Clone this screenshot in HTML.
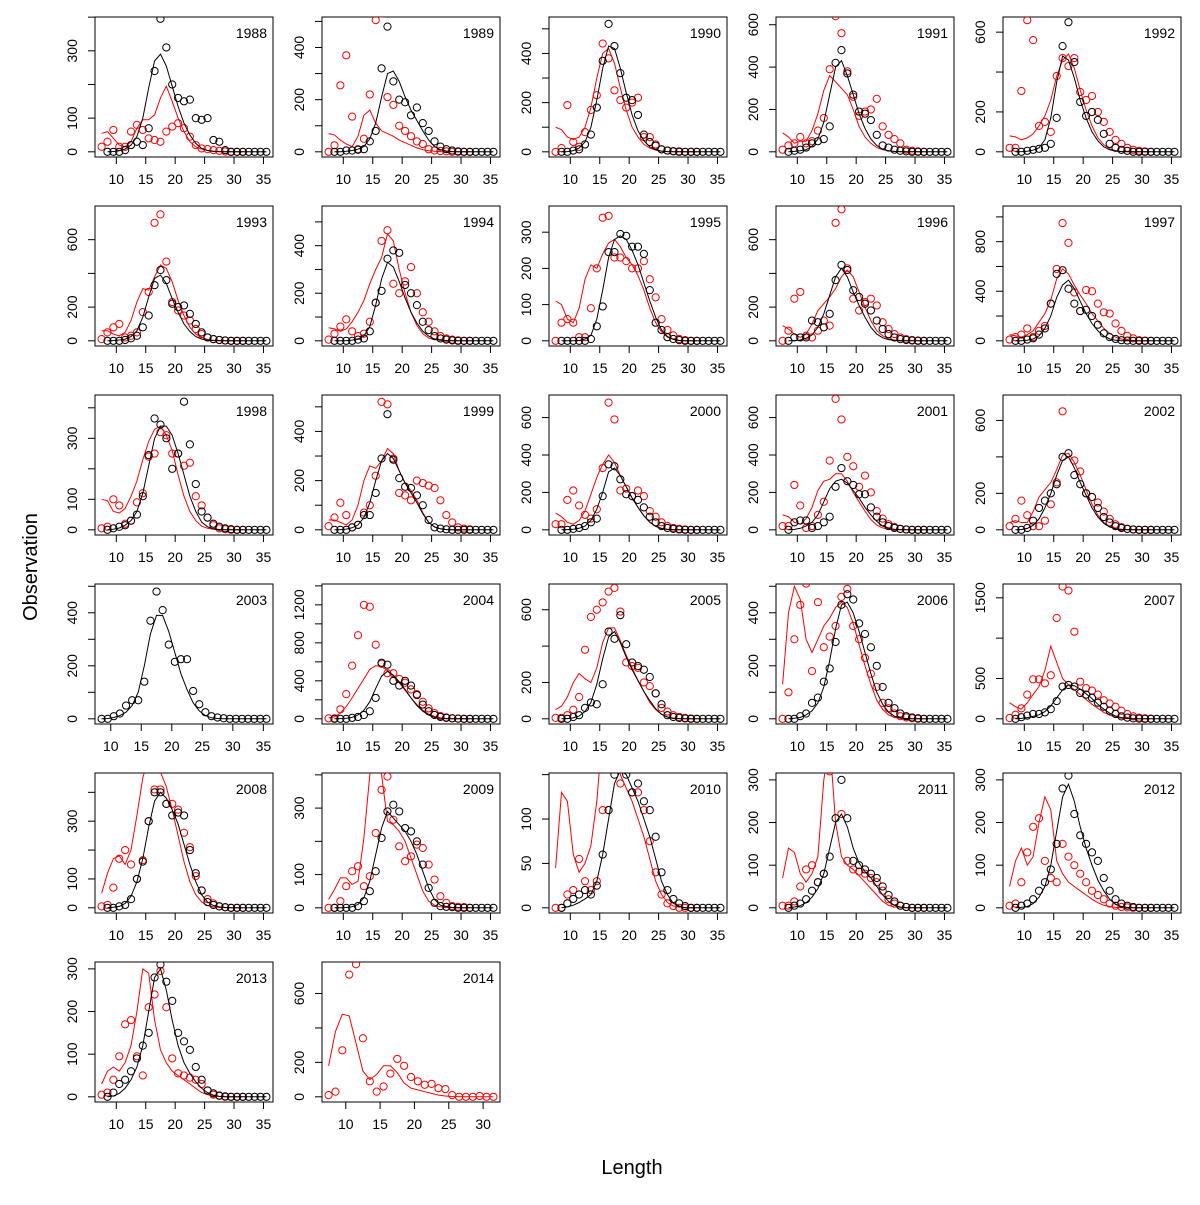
<!DOCTYPE html>
<html><head><meta charset="utf-8"><style>
body{margin:0;background:#fff}
svg text{font-family:"Liberation Sans","DejaVu Sans",sans-serif}
</style></head><body>
<svg id="chart" width="1200" height="1200" viewBox="0 0 1200 1200" xmlns="http://www.w3.org/2000/svg">
<text x="37" y="567" font-size="20" text-anchor="middle" transform="rotate(-90 37 567)">Observation</text>
<text x="632" y="1174" font-size="20" text-anchor="middle">Length</text>
</svg>
<script>
const years=[1988,1989,1990,1991,1992,1993,1994,1995,1996,1997,1998,1999,2000,2001,2002,2003,2004,2005,2006,2007,2008,2009,2010,2011,2012,2013,2014];
const blackLengths=[8.5,9.5,10.5,11.5,12.5,13.5,14.5,15.5,16.5,17.5,18.5,19.5,20.5,21.5,22.5,23.5,24.5,25.5,26.5,27.5,28.5,29.5,30.5,31.5,32.5,33.5,34.5,35.5];
const redLengths=[7.5,8.5,9.5,10.5,11.5,12.5,13.5,14.5,15.5,16.5,17.5,18.5,19.5,20.5,21.5,22.5,23.5,24.5,25.5,26.5,27.5,28.5,29.5,30.5,31.5];
const yMax=[385,497,527,612,650,769,545,358,769,1046,425,527,693,693,711,489,1365,713,489,1607,449,390,146,304,304,304,753];
const tickStep=[100,100,100,200,200,200,100,100,200,200,100,100,200,200,200,100,200,200,100,500,100,100,50,100,100,100,200];
const tickLabels=[[0,100,300],[0,200,400],[0,200,400],[0,200,400,600],[0,200,600],[0,200,600],[0,200,400],[0,100,200,300],[0,200,600],[0,400,800],[0,100,300],[0,200,400],[0,200,400,600],[0,200,400,600],[0,200,600],[0,200,400],[0,400,800,1200],[0,200,600],[0,200,400],[0,500,1500],[0,100,300],[0,100,300],[0,50,100],[0,100,200,300],[0,100,200,300],[0,100,200,300],[0,200,600]];
const blackObs=[
[0,0,0,5,20,30,20,70,240,395,310,200,160,150,155,100,95,100,35,30,5,0,0,0,0,0,0,0],
[0,0,5,5,8,10,40,80,320,480,270,200,190,140,170,110,80,40,20,10,5,2,0,0,0,0,0,0],
[0,0,5,10,30,70,180,370,520,430,320,220,210,150,70,40,25,10,5,2,0,0,0,0,0,0,0,0],
[0,5,10,20,40,50,60,120,420,480,370,270,190,180,150,80,30,20,10,5,2,0,0,0,0,0,0,0],
[0,0,5,10,15,20,40,170,530,650,450,250,180,200,160,90,40,20,10,5,0,0,0,0,0,0,0,0],
[0,0,0,5,15,30,80,150,330,420,360,220,200,210,160,100,50,20,10,5,2,0,0,0,0,0,0,0],
[0,0,0,0,5,10,40,160,210,345,380,370,235,200,150,80,45,20,10,5,2,0,0,0,0,0,0,0],
[0,0,0,0,0,5,40,95,245,245,295,290,260,260,240,140,50,30,10,5,2,0,0,0,0,0,0,0],
[0,20,20,20,120,110,80,160,360,450,420,300,260,220,180,120,70,40,20,10,5,2,0,0,0,0,0,0],
[0,0,10,20,50,100,300,540,570,420,300,240,250,200,130,60,30,15,5,2,0,0,0,0,0,0,0,0],
[0,5,10,15,30,50,110,245,365,345,300,200,250,420,280,150,60,40,20,10,5,2,0,0,0,0,0,0],
[0,0,0,10,20,60,60,150,290,470,285,210,175,170,140,100,40,10,5,2,0,0,0,0,0,0,0,0],
[0,0,5,10,20,40,60,180,350,340,270,190,180,160,120,70,40,20,10,5,2,0,0,0,0,0,0,0],
[0,40,50,50,10,20,40,70,230,330,260,240,190,190,120,70,40,20,10,5,2,0,0,0,0,0,0,0],
[0,0,10,50,120,160,200,250,400,420,300,250,200,180,120,70,40,20,10,5,2,0,0,0,0,0,0,0],
[0,0,10,20,50,70,70,140,370,480,410,280,215,225,225,105,55,25,10,5,2,0,0,0,0,0,0,0],
[0,0,0,10,20,40,80,220,590,570,400,350,400,350,250,150,80,40,20,10,5,2,0,0,0,0,0,0],
[0,0,10,20,60,90,80,190,480,440,570,410,310,290,270,230,140,80,20,10,5,2,0,0,0,0,0,0],
[0,0,10,20,60,80,140,190,290,430,470,450,360,320,270,200,120,60,40,20,10,5,2,0,0,0,0,0],
[0,20,40,60,60,80,120,220,400,420,400,320,300,260,200,150,100,60,30,15,5,2,0,0,0,0,0,0],
[0,0,5,10,30,100,160,300,400,400,360,320,330,320,200,120,60,20,10,5,2,0,0,0,0,0,0,0],
[0,0,0,0,5,20,50,110,210,290,310,290,240,230,200,130,60,15,5,3,2,0,0,0,0,0,0,0],
[0,5,10,15,20,15,25,60,110,150,160,150,130,140,120,110,80,40,20,10,5,2,0,0,0,0,0,0],
[0,5,10,20,40,60,80,120,210,300,210,110,100,90,80,70,50,30,15,5,2,0,0,0,0,0,0,0],
[0,5,10,20,40,60,90,150,280,310,220,170,150,130,110,70,40,20,10,5,2,0,0,0,0,0,0,0],
[0,10,30,40,60,90,120,150,280,310,270,225,150,130,110,70,40,15,8,3,1,0,0,0,0,0,0,0],
[]];
const blackFit=[
[0,1,3,8,20,45,100,190,270,290,255,195,135,85,50,25,10,4,1,0,0,0,0,0,0,0,0,0],
[0,0,2,5,10,20,50,110,210,300,310,270,210,160,120,80,45,20,8,3,1,0,0,0,0,0,0,0],
[0,1,5,15,40,100,210,340,430,420,340,240,150,85,45,20,8,3,1,0,0,0,0,0,0,0,0,0],
[0,2,5,10,25,60,140,270,400,430,360,270,180,110,60,30,12,5,2,0,0,0,0,0,0,0,0,0],
[0,1,3,8,20,60,170,350,480,460,370,260,170,100,55,25,10,4,1,0,0,0,0,0,0,0,0,0],
[0,2,5,10,25,60,140,260,370,390,340,250,170,100,55,25,10,4,1,0,0,0,0,0,0,0,0,0],
[0,0,1,3,8,20,60,150,260,330,310,250,180,120,75,40,20,8,3,1,0,0,0,0,0,0,0,0],
[0,0,0,1,5,15,60,140,230,280,290,280,250,210,160,110,65,30,12,4,1,0,0,0,0,0,0,0],
[0,2,5,15,35,80,160,270,380,430,380,290,210,140,80,40,18,7,2,0,0,0,0,0,0,0,0,0],
[0,1,5,15,40,100,200,350,450,490,420,320,220,140,80,40,15,5,1,0,0,0,0,0,0,0,0,0],
[0,2,6,15,30,60,120,210,300,340,340,310,250,180,110,60,25,10,3,1,0,0,0,0,0,0,0,0],
[0,1,3,8,20,50,110,200,280,310,290,240,190,150,110,65,30,12,4,1,0,0,0,0,0,0,0,0],
[0,1,3,8,20,50,110,200,310,330,290,230,170,120,75,40,18,7,2,0,0,0,0,0,0,0,0,0],
[0,2,8,20,40,80,150,220,260,270,250,210,170,120,80,45,20,8,3,1,0,0,0,0,0,0,0,0],
[0,2,8,25,60,120,200,300,380,400,340,260,190,120,70,35,15,5,2,0,0,0,0,0,0,0,0,0],
[0,1,5,12,25,50,100,200,320,390,390,330,250,170,110,60,30,12,4,1,0,0,0,0,0,0,0,0],
[0,2,5,15,40,90,180,320,450,500,460,390,310,220,140,80,40,15,5,1,0,0,0,0,0,0,0,0],
[0,2,5,15,40,90,190,330,450,480,420,340,270,210,150,100,55,25,10,3,1,0,0,0,0,0,0,0],
[0,2,5,15,30,60,120,220,340,430,440,400,330,250,170,100,55,25,10,3,1,0,0,0,0,0,0,0],
[0,5,15,30,50,90,160,260,360,420,410,370,310,250,180,120,70,35,15,5,1,0,0,0,0,0,0,0],
[0,2,5,15,40,90,170,280,370,400,380,340,290,220,150,90,45,20,8,3,1,0,0,0,0,0,0,0],
[0,0,1,3,10,30,80,160,240,290,270,250,230,200,160,110,60,25,8,3,1,0,0,0,0,0,0,0],
[0,1,3,6,10,15,30,60,100,140,155,150,135,120,100,80,55,30,15,5,2,0,0,0,0,0,0,0],
[0,2,5,12,25,45,80,140,200,220,190,140,105,85,70,50,30,15,6,2,0,0,0,0,0,0,0,0],
[0,1,3,10,25,50,100,180,260,290,250,190,140,100,65,40,20,8,3,1,0,0,0,0,0,0,0,0],
[0,2,8,20,40,70,120,200,280,300,250,180,120,80,55,35,20,10,4,1,0,0,0,0,0,0,0,0],
[]];
const redObs=[
[15,30,65,15,15,60,80,65,40,35,30,60,75,85,70,45,20,10,8,5,3,1,0,0,0],
[0,25,255,370,135,10,50,220,505,530,210,180,100,80,60,40,30,10,5,3,2,0,0,0,0],
[0,15,190,40,20,80,170,230,440,380,250,210,180,200,220,60,60,30,10,5,3,2,0,0,0],
[10,30,40,70,40,50,100,160,390,640,560,380,260,170,190,200,250,120,80,60,40,10,5,2,0],
[20,20,305,660,560,130,150,100,380,470,430,470,300,260,280,200,150,100,60,40,20,10,5,2,0],
[10,50,80,100,20,30,50,170,290,700,750,470,230,180,150,120,70,40,20,10,5,2,0,0,0],
[5,30,60,90,40,20,30,80,160,420,465,240,200,250,310,200,120,80,40,20,10,5,2,0,0],
[0,50,60,50,10,10,90,200,340,345,230,230,220,200,200,220,170,120,60,30,15,5,2,0,0],
[0,60,250,290,30,20,60,120,90,700,780,430,250,180,230,250,210,110,70,40,20,10,5,2,0],
[10,30,50,100,30,80,120,300,580,950,790,390,240,410,400,300,230,220,140,80,40,20,5,2,0],
[5,10,100,80,20,30,90,120,240,250,320,310,250,250,210,220,110,80,40,15,5,2,0,0,0],
[15,50,110,60,10,20,70,100,220,520,510,290,150,140,120,200,190,180,170,120,60,30,10,5,2],
[30,30,160,210,130,80,60,110,330,680,590,210,220,180,210,180,100,70,40,20,10,5,2,0,0],
[20,20,240,130,10,20,80,150,370,700,590,390,340,230,290,200,100,60,30,15,5,2,0,0,0],
[20,60,160,80,20,20,50,140,260,650,760,380,320,200,180,150,100,60,30,15,5,2,0,0,0],
[],
[5,5,100,260,560,880,1200,1180,780,580,480,480,420,380,310,260,180,110,60,30,15,5,2,0,0],
[5,5,20,50,120,380,560,600,640,700,720,590,310,290,280,200,180,140,60,40,20,10,5,2,0],
[0,100,300,430,510,180,440,270,310,350,460,490,350,300,230,170,120,60,40,20,10,5,2,0,0],
[10,50,130,300,490,490,440,540,1250,1640,1590,1080,460,380,350,300,230,190,150,100,60,30,15,5,2],
[5,10,70,170,200,150,100,165,300,410,410,360,360,340,260,210,110,60,30,15,5,2,0,0,0],
[0,0,20,65,110,125,65,95,225,355,395,265,185,140,155,190,180,130,85,35,15,5,3,2,0],
[0,0,15,20,55,30,20,30,110,110,180,140,160,130,130,110,75,40,15,5,2,0,0,0,0],
[5,5,15,50,90,100,60,80,320,330,220,110,90,85,80,70,60,40,20,10,5,2,0,0,0],
[5,10,60,130,190,210,110,70,60,150,120,100,80,60,40,30,20,10,5,2,1,0,0,0,0],
[5,10,40,95,170,180,95,50,210,240,295,210,90,55,50,45,40,30,15,5,2,0,0,0,0],
[10,30,270,710,770,340,90,30,60,135,220,180,115,90,70,75,50,45,10,0,0,0,5,0,0]];
const redFit=[
[55,60,40,20,15,30,70,95,95,110,160,195,150,100,60,30,15,8,4,2,1,0,0,0,0],
[70,65,45,30,20,60,140,160,110,80,70,60,45,35,25,15,8,4,2,1,0,0,0,0,0],
[100,90,60,50,60,100,180,300,400,420,360,260,170,100,60,30,15,7,3,1,0,0,0,0,0],
[90,70,40,50,50,100,180,290,360,330,300,270,200,120,70,40,20,10,5,2,1,0,0,0,0],
[80,75,60,70,90,130,180,260,380,460,490,420,310,210,130,70,35,15,6,2,1,0,0,0,0],
[60,60,40,30,50,120,230,310,300,380,450,430,350,240,150,80,40,20,8,3,1,0,0,0,0],
[55,50,40,50,80,120,170,240,300,350,450,420,300,200,120,65,30,12,5,2,1,0,0,0,0],
[110,100,60,50,90,170,210,200,240,270,280,260,230,210,180,140,90,50,25,10,4,1,0,0,0],
[90,70,40,20,40,100,180,220,260,310,380,420,380,290,200,120,60,30,12,5,2,0,0,0,0],
[50,40,30,50,80,150,220,330,500,580,540,450,370,300,220,160,100,60,30,15,5,2,0,0,0],
[100,95,60,55,70,110,160,230,290,330,340,310,260,180,110,60,30,12,5,2,0,0,0,0,0],
[40,40,30,20,40,100,200,260,250,280,330,310,240,190,160,120,70,30,12,4,1,0,0,0,0],
[90,70,40,30,50,100,190,280,350,400,360,290,230,170,120,75,40,20,8,3,1,0,0,0,0],
[80,70,40,30,60,120,210,260,270,300,300,260,200,150,100,55,25,10,4,1,0,0,0,0,0],
[40,50,40,40,100,180,220,260,330,410,420,370,300,220,140,80,40,18,7,3,1,0,0,0,0],
[],
[10,20,60,130,220,320,420,520,560,550,510,450,380,300,220,150,90,50,25,10,4,1,0,0,0],
[50,70,120,200,250,220,200,280,420,500,500,430,350,280,210,150,90,50,25,10,4,1,0,0,0],
[130,400,500,450,300,250,300,350,380,420,440,420,360,280,200,130,70,35,15,5,2,0,0,0,0],
[200,150,120,200,300,400,600,900,700,500,420,360,300,240,180,130,80,45,20,8,3,1,0,0,0],
[50,120,170,180,150,200,320,450,520,500,470,420,340,250,160,90,45,20,8,3,1,0,0,0,0],
[25,55,90,90,70,80,210,400,450,400,260,250,230,200,150,100,50,20,8,3,1,0,0,0,0],
[45,130,120,60,40,50,70,120,200,250,200,150,135,120,100,80,55,30,15,6,2,1,0,0,0],
[70,140,130,80,60,80,120,300,390,200,120,100,90,75,60,45,30,15,6,2,1,0,0,0,0],
[50,110,140,100,120,200,260,230,110,80,60,50,40,30,20,12,6,3,1,0,0,0,0,0,0],
[30,60,70,60,80,120,200,300,290,180,110,80,60,50,40,30,20,10,5,2,1,0,0,0,0],
[180,380,480,470,310,150,100,130,180,180,140,80,50,40,30,20,10,5,2,1,0,0,0,0,0]];
const xTicks=[10,15,20,25,30,35];

const NS='http://www.w3.org/2000/svg';
const svg=document.getElementById('chart');
function mk(tag,attrs,parent){const e=document.createElementNS(NS,tag);for(const k in attrs)e.setAttribute(k,attrs[k]);parent.appendChild(e);return e;}
const W=178,H=140;
years.forEach((yr,i)=>{
  const col=i%5,row=Math.floor(i/5);
  const L=95+227*col,T=17+189*row,R=L+W,B=T+H;
  const g=mk('g',{},svg);
  
  
  // x domain from available lengths
  let xs=[];
  if(blackObs[i].length)xs=xs.concat(blackLengths);
  if(redObs[i].length)xs=xs.concat(redLengths);
  const xmin=Math.min(...xs),xmax=Math.max(...xs),xr=xmax-xmin;
  const x0=xmin-0.04*xr,x1=xmax+0.04*xr;
  const M=yMax[i];
  const sx=v=>L+(v-x0)/(x1-x0)*W;
  const sy=v=>T+H*(1.04*M-v)/(1.08*M);
  const cid='clip'+i;
  const cp=mk('clipPath',{id:cid},g);mk('rect',{x:L,y:T,width:W,height:H},cp);
  const box=mk('rect',{x:L,y:T,width:W,height:H,fill:'none',stroke:'#000','stroke-width':1},g);
  
  
  // y ticks
  for(let v=0;v<=1.04*M+0.001;v+=tickStep[i]){
    const y=sy(v);
    mk('line',{x1:L-7,x2:L,y1:y,y2:y,stroke:'#000'},g);
  }
  const t0=sy(0),tl=sy(Math.floor(1.04*M/tickStep[i])*tickStep[i]);
  mk('line',{x1:L,x2:L,y1:tl,y2:t0,stroke:'#000'},g);
  tickLabels[i].forEach(v=>{
    const y=sy(v);
    const t=mk('text',{x:L-18,y:y,'font-size':14,'text-anchor':'middle',transform:`rotate(-90 ${L-18} ${y})`},g);
    
    
    t.textContent=v;
  });
  // x ticks
  xTicks.forEach(v=>{
    if(v<x0||v>x1)return;
    const x=sx(v);
    mk('line',{x1:x,x2:x,y1:B,y2:B+7,stroke:'#000'},g);
    const t=mk('text',{x:x,y:B+27,'font-size':14,'text-anchor':'middle'},g);
    
    
    t.textContent=v;
  });
  const yt=mk('text',{x:R-6,y:T+21,'font-size':14,'text-anchor':'end'},g);
  
  
  yt.textContent=yr;
  const pg=mk('g',{'clip-path':`url(#${cid})`},g);
  function series(lengths,obs,fit,color,tag){
    if(fit.length){
      const p=mk('polyline',{points:fit.map((v,k)=>sx(lengths[k]).toFixed(1)+','+sy(v).toFixed(1)).join(' '),fill:'none',stroke:color,'stroke-width':1},pg);
      
      
    }
    obs.forEach((v,k)=>{
      const c=mk('circle',{cx:sx(lengths[k]),cy:sy(v),r:3.6,fill:'none',stroke:color,'stroke-width':1},pg);
      
      
    });
  }
  series(redLengths,redObs[i],redFit[i],'#ff0000','red');
  series(blackLengths,blackObs[i],blackFit[i],'#000000','black');
});
</script>
</body></html>
